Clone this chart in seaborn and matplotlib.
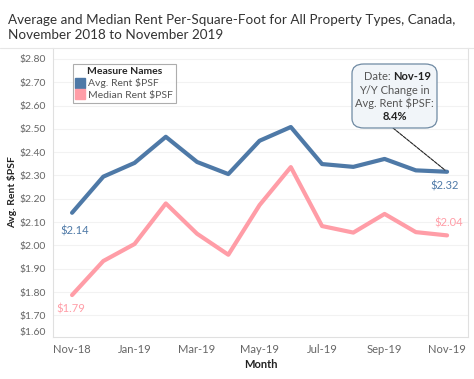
import pandas as pd
import matplotlib.pyplot as plt
import seaborn as sns
from matplotlib.patches import FancyBboxPatch
from matplotlib.lines import Line2D

months = ['Nov-18', 'Dec-18', 'Jan-19', 'Feb-19', 'Mar-19', 'Apr-19', 'May-19',
          'Jun-19', 'Jul-19', 'Aug-19', 'Sep-19', 'Oct-19', 'Nov-19']
avg_rent = [2.14, 2.295, 2.354, 2.466, 2.358, 2.306, 2.449, 2.508, 2.349, 2.337, 2.371, 2.322, 2.316]
median_rent = [1.787, 1.933, 2.006, 2.18, 2.05, 1.96, 2.173, 2.336, 2.083, 2.055, 2.135, 2.057, 2.043]
series_names = ['Avg. Rent $PSF', 'Median Rent $PSF']
tick_months = ['Nov-18', 'Jan-19', 'Mar-19', 'May-19', 'Jul-19', 'Sep-19', 'Nov-19']
y_ticks = [1.70, 1.80, 1.90, 2.00, 2.10, 2.20, 2.30, 2.40, 2.50, 2.60, 2.70, 2.80]

colores = {'Avg. Rent $PSF': '#4e79a7', 'Median Rent $PSF': '#ff9da7'}

datos = pd.DataFrame({
    'idx': list(range(len(months))) * 2,
    'Month': months * 2,
    'valor': avg_rent + median_rent,
    'Measure Names': [series_names[0]] * len(months) + [series_names[1]] * len(months),
})

sns.set_style('white')
plt.rcParams['font.family'] = ['Lato', 'DejaVu Sans']

W, H = 474, 379
fig = plt.figure(figsize=(W / 100, H / 100), dpi=100)
ax = fig.add_axes([53 / W, 1 - 337 / H, (468 - 53) / W, (337 - 48) / H])


def px(x, y):
    return (x / W, 1 - y / H)


sns.lineplot(data=datos, x='idx', y='valor', hue='Measure Names', palette=colores,
             linewidth=3, ax=ax, legend=False)

ax.set_xlim(-0.61, 12.67)
y_bottom = 1.607
ax.set_ylim(y_bottom, 2.847)

ax.set_xticks([months.index(m) for m in tick_months])
ax.set_xticklabels(tick_months, fontsize=8, color='#666666')
ax.set_yticks([y_bottom] + y_ticks)
ax.set_yticklabels(['$1.60'] + [f'${v:.2f}' for v in y_ticks], fontsize=7.5, color='#666666')
ax.get_yticklabels()[0].set_va('bottom')
ax.tick_params(axis='both', length=0, pad=5)
ax.yaxis.grid(True, color='#f2f2f2', linewidth=0.8)
ax.get_ygridlines()[0].set_visible(False)
ax.set_axisbelow(True)
for lado in ['left', 'bottom', 'right']:
    ax.spines[lado].set_color('#e0e0e0')
ax.spines['top'].set_visible(False)

ax.set_xlabel('Month', fontsize=8, fontweight='bold', color='#222222')
ax.set_ylabel('Avg. Rent $PSF', fontsize=7.5, fontweight='bold', color='#222222')
ax.xaxis.set_label_coords(0.5, -(364 - 337) / (337 - 48))
ax.yaxis.set_label_coords(-(53 - 12) / (468 - 53), 0.5)
ax.yaxis.label.set_va('center')
ax.xaxis.label.set_va('center')

# linea bajo el titulo
fig.add_artist(Line2D([0, 1], [px(0, 48)[1]] * 2, color='#e6e6e6', linewidth=0.8))

fig.text(*px(8, 20), 'Average and Median Rent Per-Square-Foot for All Property Types, Canada,',
         fontsize=9.7, color='#333333', va='center', ha='left')
fig.text(*px(8, 35), 'November 2018 to November 2019',
         fontsize=9.7, color='#333333', va='center', ha='left')

# etiquetas de extremos
ax.annotate(f'${avg_rent[0]:.2f}', (0, avg_rent[0]), xytext=(2, -13), textcoords='offset points',
            ha='center', va='center', fontsize=8, color=colores[series_names[0]])
ax.annotate(f'${median_rent[0]:.2f}', (0, median_rent[0]), xytext=(-1, -10), textcoords='offset points',
            ha='center', va='center', fontsize=8, color=colores[series_names[1]])
ax.annotate(f'${avg_rent[-1]:.2f}', (12, avg_rent[-1]), xytext=(-2, -10), textcoords='offset points',
            ha='center', va='center', fontsize=8, color=colores[series_names[0]])
ax.annotate(f'${median_rent[-1]:.2f}', (12, median_rent[-1]), xytext=(1, 9), textcoords='offset points',
            ha='center', va='center', fontsize=8, color=colores[series_names[1]])

# leyenda
handles = [Line2D([], [], marker='s', linestyle='none', markersize=6.5, color=colores[n]) for n in series_names]
leg = fig.legend(handles, series_names, title='Measure Names', loc='upper left',
                 bbox_to_anchor=px(73, 64), fontsize=7.5, title_fontproperties={'weight': 'bold', 'size': 7.5},
                 frameon=True, fancybox=False, borderpad=0.3, handletextpad=0.3, labelspacing=0.2,
                 handlelength=0.8, borderaxespad=0)
leg.get_frame().set_edgecolor('#999999')
leg.get_frame().set_linewidth(0.8)
for t in leg.get_texts():
    t.set_color('#555555')

# caja de anotacion
x0, y0 = px(352, 128)
x1, y1 = px(437, 64)
caja = FancyBboxPatch((x0, y0), x1 - x0, y1 - y0, boxstyle='round,pad=0,rounding_size=0.025',
                      transform=fig.transFigure, facecolor='#f1f5f9', edgecolor='#6f8aa3', linewidth=0.9)
fig.add_artist(caja)
cx = 394.5
fig.text(*px(cx - 1, 76), 'Date: ', fontsize=8, color='#555555', ha='right', va='center')
fig.text(*px(cx - 1, 76), 'Nov-19', fontsize=8, color='#222222', fontweight='bold', ha='left', va='center')
fig.text(*px(cx, 90), 'Y/Y Change in', fontsize=8, color='#555555', ha='center', va='center')
fig.text(*px(cx, 103), 'Avg. Rent $PSF:', fontsize=8, color='#555555', ha='center', va='center')
fig.text(*px(cx, 116), '8.4%', fontsize=8, color='#222222', fontweight='bold', ha='center', va='center')
ax.annotate('', xy=(12, avg_rent[-1]), xytext=px(393, 128), textcoords='figure fraction',
            arrowprops=dict(arrowstyle='-', linestyle=(0, (3, 1)), color='#222222', linewidth=0.8,
                            shrinkA=0, shrinkB=2))

plt.savefig('out.png', dpi=100)
